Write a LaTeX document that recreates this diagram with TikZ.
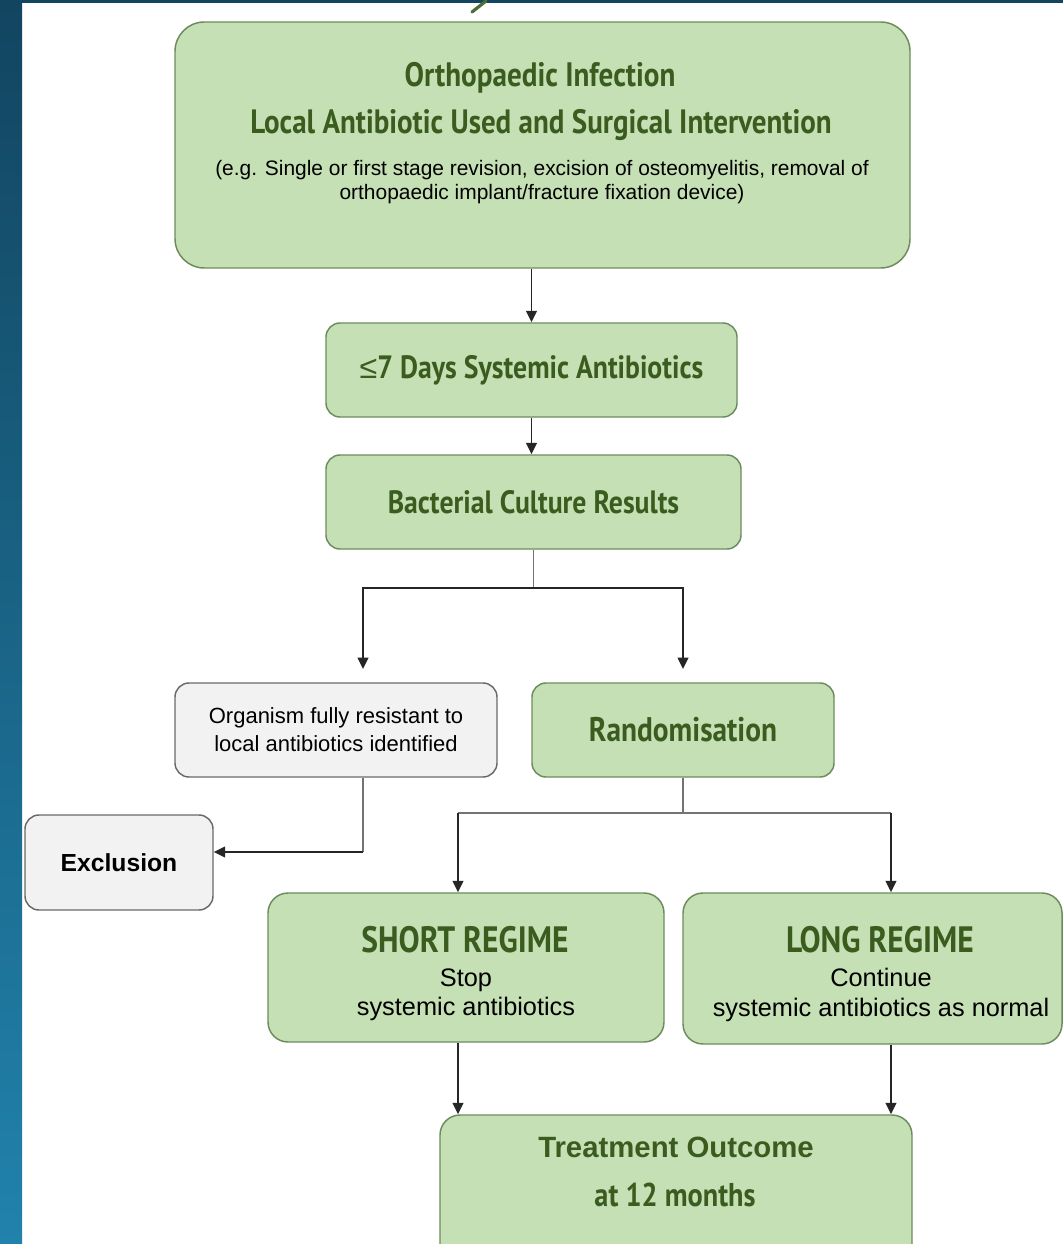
\documentclass[tikz,border=0pt]{standalone}
\usepackage{fontspec}
\setmainfont{Liberation Sans}
\newfontfamily\hand[FakeStretch=0.86]{PT Sans}
\usetikzlibrary{arrows.meta}
\definecolor{gfill}{HTML}{C5E0B4}
\definecolor{gline}{HTML}{6C8C5D}
\definecolor{gtext}{HTML}{3A5C1E}
\definecolor{gyfill}{HTML}{F2F2F2}
\definecolor{gyline}{HTML}{6A6A6A}
\definecolor{navyA}{HTML}{124560}
\definecolor{navyB}{HTML}{2182AC}
\tikzset{
  gbox/.style={draw=gline, fill=gfill, line width=1.1pt, rounded corners=10.5pt, inner sep=0pt, align=center},
  gybox/.style={draw=gyline, fill=gyfill, line width=1.1pt, rounded corners=10.5pt, inner sep=0pt, align=center},
  head/.style={font=\hand\bfseries\fontsize{24.2}{28}\selectfont, text=gtext, inner sep=0pt},
  body/.style={font=\fontsize{19}{22}\selectfont, text=black, align=center, inner sep=0pt},
  arr/.style={draw=black!85, line width=1.3pt, -{Triangle[length=8.5pt,width=8pt]}},
  stem/.style={draw=black!55, line width=1pt},
}
\begin{document}
\begin{tikzpicture}[x=0.75pt,y=-0.75pt]
\useasboundingbox (0,0) rectangle (1063,1244);
\fill[white] (0,0) rectangle (1063,1244);
\shade[top color=navyA,bottom color=navyB] (0,0) rectangle (22,1244);
\fill[navyA] (0,0) rectangle (1063,3);
\draw[color=gtext!90, line width=2.4pt, line cap=round] (472,12) -- (486,1);

% boxes
\node[gbox, rounded corners=22pt, minimum width=735*0.75pt, minimum height=246*0.75pt] (top) at (542.5,145) {};
\node[head, font=\hand\bfseries\fontsize{25.4}{29}\selectfont] (t1) at (540,78) {Orthopaedic Infection};
\node[head, font=\hand\bfseries\fontsize{25.3}{29}\selectfont] (t2) at (541,125) {Local Antibiotic Used and Surgical Intervention};
\node[body, font=\fontsize{15.7}{18}\selectfont] (t3) at (542,182) {(e.g. Single or first stage revision, excision of osteomyelitis, removal of\\orthopaedic implant/fracture fixation device)};

\node[gbox, minimum width=411*0.75pt, minimum height=94*0.75pt, head] (d7) at (531.5,370) {{\rmfamily\mdseries ≤}7 Days Systemic Antibiotics};
\node[gbox, minimum width=415*0.75pt, minimum height=94*0.75pt, head] (bact) at (533.5,502) {Bacterial Culture Results};

\node[gybox, minimum width=322*0.75pt, minimum height=94*0.75pt, body, font=\fontsize{16.5}{21}\selectfont] (org) at (336,730) {Organism fully resistant to\\local antibiotics identified};
\node[gbox, minimum width=302*0.75pt, minimum height=94*0.75pt, head, font=\hand\bfseries\fontsize{25.6}{29}\selectfont] (rand) at (683,730) {Randomisation};
\node[gybox, minimum width=188*0.75pt, minimum height=95*0.75pt, font=\bfseries\fontsize{18.5}{22}\selectfont] (excl) at (119,862.5) {Exclusion};

\node[gbox, rounded corners=15pt, minimum width=396*0.75pt, minimum height=149*0.75pt] (short) at (466,967.5) {};
\node[head, font=\hand\bfseries\fontsize{27.5}{30}\selectfont] (shorth) at (465,940) {SHORT REGIME};
\node[body] (shortb) at (466,995) {Stop\\systemic antibiotics};

\node[gbox, rounded corners=15pt, minimum width=379*0.75pt, minimum height=151*0.75pt] (long) at (872.5,968.5) {};
\node[head, font=\hand\bfseries\fontsize{27.5}{30}\selectfont] (longh) at (880,940) {LONG REGIME};
\node[body] (longb) at (881,995) {Continue\\systemic antibiotics as normal};

\node[gbox, rounded corners=15pt, minimum width=472*0.75pt, minimum height=160*0.75pt] (out) at (676,1195) {};
\node[text=gtext, font=\bfseries\fontsize{22}{25}\selectfont, inner sep=0pt] (outh) at (676,1147) {Treatment Outcome};
\node[head, font=\hand\bfseries\fontsize{24.7}{28}\selectfont] (outb) at (675,1195) {at 12 months};

% connectors
\coordinate (jL) at (363,588);
\coordinate (jR) at (683,588);
\coordinate (ex) at (363,852);
\coordinate (kL) at (458,813);
\coordinate (kR) at (891,813);

\draw[arr] (d7.north |- top.south) -- (d7.north);
\draw[arr] (d7.south) -- (d7.south |- bact.north);
\draw[stem] (bact.south) -- (bact.south |- jL);
\draw[arr, shorten >=10pt] (bact.south |- jL) -- (jL) -- (jL |- org.north);
\draw[arr, shorten >=10pt] (bact.south |- jL) -- (jR) -- (rand.north);
\draw[stem] (jL |- org.south) -- (ex);
\draw[arr] (ex) -- (ex -| excl.east);
\draw[stem] (rand.south) -- (rand.south |- kL) -- (kL);
\draw[stem] (rand.south |- kL) -- (kR);
\draw[arr] (kL) -- (kL |- short.north);
\draw[arr] (kR) -- (kR |- long.north);
\draw[arr] (kL |- short.south) -- (kL |- out.north);
\draw[arr] (kR |- long.south) -- (kR |- out.north);
\end{tikzpicture}
\end{document}
